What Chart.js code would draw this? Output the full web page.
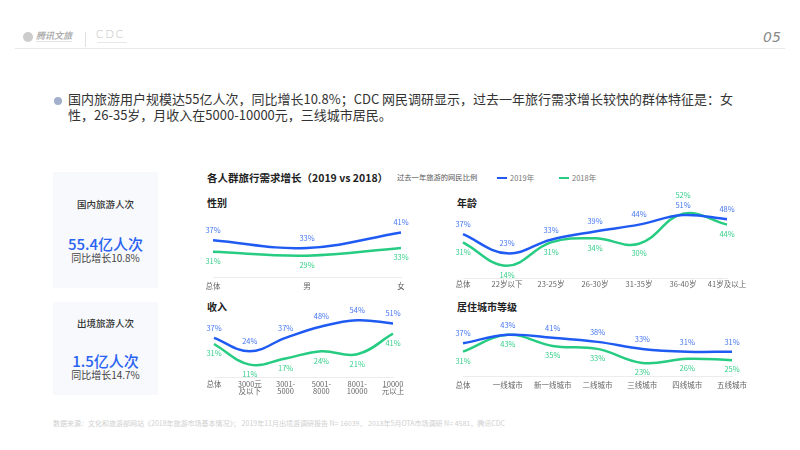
<!DOCTYPE html>
<html>
<head>
<meta charset="utf-8">
<script src="https://cdn.jsdelivr.net/npm/chart.js@4"></script>
<style>
  html, body { margin: 0; padding: 0; background: #fff; }
  body { width: 800px; height: 450px; position: relative; overflow: hidden; font-family: "Noto Sans CJK SC", "Noto Sans", sans-serif; }
  .abs { position: absolute; white-space: nowrap; }
  .card { position: absolute; left: 53px; width: 105px; background: #f7f9fc; text-align: center; }
  .card .name { position: absolute; left: 0; right: 0; font-size: 9.5px; color: #333; font-weight: 500; }
  .card .big { position: absolute; left: 0; right: 0; font-size: 15px; color: #2a62f2; font-weight: 500; line-height: 16px; }
  .card .sub { position: absolute; left: 0; right: 0; font-size: 10px; color: #444; line-height: 12px; }
  .box { position: absolute; }
  .sect { font-size: 10px; font-weight: 700; color: #222; }
</style>
</head>
<body>
<!-- header -->
<div class="abs" style="left:23px;top:32px;width:10px;height:10px;border-radius:50%;background:#cccccc;"></div>
<div class="abs" style="left:36px;top:29px;font-size:9px;color:#b0b0b0;font-style:italic;font-weight:700;">腾讯文旅</div>
<div class="abs" style="left:36px;top:41px;width:36px;height:1px;background:#e2e2e2;"></div>
<div class="abs" style="left:85px;top:32px;width:1px;height:15px;background:#e0e0e0;"></div>
<div class="abs" style="left:96px;top:27px;font-size:11px;letter-spacing:2px;color:#c4c4c4;font-weight:300;font-family:'Lato';">CDC</div>
<div class="abs" style="left:97px;top:42px;width:30px;height:1px;background:#e8e8e8;"></div>
<div class="abs" style="left:15px;top:48px;width:770px;height:1px;background:#e8e8e8;"></div>
<div class="abs" style="left:763px;top:29px;font-size:14px;color:#8a8a8a;font-style:italic;font-family:'DejaVu Sans';">05</div>

<!-- summary -->
<div class="abs" style="left:54px;top:97px;width:8px;height:8px;border-radius:50%;background:#a3b0cc;"></div>
<div class="abs" style="left:68px;top:91px;font-size:13px;line-height:16px;color:#333;">国内旅游用户规模达55亿人次，同比增长10.8%；CDC 网民调研显示，过去一年旅行需求增长较快的群体特征是：女<br>性，26-35岁，月收入在5000-10000元，三线城市居民。</div>

<!-- cards -->
<div class="card" style="top:172px;height:116px;">
  <div class="name" style="top:25px;">国内旅游人次</div>
  <div class="big" style="top:64px;">55.4亿人次</div>
  <div class="sub" style="top:80px;">同比增长10.8%</div>
</div>
<div class="card" style="top:302px;height:93px;">
  <div class="name" style="top:14px;">出境旅游人次</div>
  <div class="big" style="top:51px;">1.5亿人次</div>
  <div class="sub" style="top:67px;">同比增长14.7%</div>
</div>

<!-- chart heading + legend -->
<div class="abs" style="left:207px;top:170px;font-size:10.5px;font-weight:700;color:#222;">各人群旅行需求增长（2019 vs 2018）</div>
<div class="abs" style="left:397px;top:172px;font-size:7.3px;color:#555;">过去一年旅游的网民比例</div>
<div class="abs" style="left:497px;top:177px;width:10px;height:2px;background:#1f5bf3;"></div>
<div class="abs" style="left:510px;top:172px;font-size:7.5px;color:#777;" id="leg19"></div>
<div class="abs" style="left:559px;top:177px;width:10px;height:2px;background:#26cc82;"></div>
<div class="abs" style="left:572px;top:172px;font-size:7.5px;color:#777;" id="leg18"></div>

<div class="abs sect" style="left:207px;top:195px;">性别</div>
<div class="abs sect" style="left:457px;top:195px;">年龄</div>
<div class="abs sect" style="left:207px;top:299px;">收入</div>
<div class="abs sect" style="left:457px;top:299px;">居住城市等级</div>

<div class="box" style="left:190px;top:210px;width:230px;height:90px;"><canvas id="gender"></canvas></div>
<div class="box" style="left:440px;top:185px;width:320px;height:110px;"><canvas id="age"></canvas></div>
<div class="box" style="left:190px;top:305px;width:230px;height:95px;"><canvas id="income"></canvas></div>
<div class="box" style="left:440px;top:313px;width:320px;height:85px;"><canvas id="city"></canvas></div>

<div class="abs" style="left:53px;top:418px;font-size:7px;color:#cfcfcf;">数据来源：文化和旅游部网站《2018年旅游市场基本情况》； 2019年11月出境游调研报告 N= 16039， 2018年5月OTA市场调研 N= 4581，腾讯CDC</div>

<script>
// values (% of netizens who travelled in the past year)
const seriesNames = ['2019年', '2018年'];

const genderLabels = ['总体', '男', '女'];
const gender2019 = [37, 33, 41];
const gender2018 = [31, 29, 33];

const ageLabels = ['总体', '22岁以下', '23-25岁', '26-30岁', '31-35岁', '36-40岁', '41岁及以上'];
const age2019 = [37, 23, 33, 39, 44, 51, 48];
const age2018 = [31, 14, 31, 34, 30, 52, 44];

const incomeLabels = ['总体', ['3000元', '及以下'], ['3001-', '5000'], ['5001-', '8000'], ['8001-', '10000'], ['10000', '元以上']];
const income2019 = [37, 24, 37, 48, 54, 51];
const income2018 = [31, 11, 17, 24, 21, 41];

const cityLabels = ['总体', '一线城市', '新一线城市', '二线城市', '三线城市', '四线城市', '五线城市'];
const city2019 = [37, 43, 41, 38, 33, 31, 31];
const city2018 = [31, 43, 35, 33, 23, 26, 25];

const BLUE = '#1f5bf3';
const GREEN = '#26cc82';
const FONT = '"Noto Sans CJK SC", "Noto Sans", sans-serif';

document.getElementById('leg19').textContent = seriesNames[0];
document.getElementById('leg18').textContent = seriesNames[1];

// draws the % value next to every point: 2019 above, 2018 below
// (2018 goes above the 2019 label when it is the higher one)
const valueLabels = {
    id: 'valueLabels',
    afterDatasetsDraw(chart) {
        const ctx = chart.ctx;
        const m19 = chart.getDatasetMeta(0);
        const m18 = chart.getDatasetMeta(1);
        const v19 = chart.data.datasets[0].data;
        const v18 = chart.data.datasets[1].data;
        ctx.save();
        ctx.font = '7.5px ' + FONT;
        ctx.textAlign = 'center';
        ctx.textBaseline = 'middle';
        m19.data.forEach((p, i) => {
            const q = m18.data[i];
            const y19 = p.y - 10;
            const y18 = v18[i] > v19[i] ? y19 - 10 : q.y + 9.5;
            ctx.fillStyle = '#4576f2';
            ctx.fillText(v19[i] + '%', p.x, y19);
            ctx.fillStyle = '#35cf8a';
            ctx.fillText(v18[i] + '%', q.x, y18);
        });
        ctx.restore();
    }
};

function makeChart(id, labels, d19, d18, cfg) {
    const line = (name, data, color) => ({
        label: name,
        data: data,
        borderColor: color,
        borderWidth: 2.5,
        tension: 0.4,
        pointRadius: 0,
        fill: false
    });
    return new Chart(document.getElementById(id), {
        type: 'line',
        data: {
            labels: labels,
            datasets: [line(seriesNames[0], d19, BLUE), line(seriesNames[1], d18, GREEN)]
        },
        options: {
            responsive: true,
            maintainAspectRatio: false,
            animation: false,
            layout: { padding: { left: cfg.left, right: cfg.right, top: cfg.top, bottom: 0 } },
            plugins: { legend: { display: false }, tooltip: { enabled: false } },
            scales: {
                x: {
                    offset: false,
                    grid: { display: false, drawTicks: false },
                    border: { color: '#ececec', width: 1 },
                    ticks: {
                        autoSkip: false,
                        maxRotation: 0,
                        padding: cfg.pad,
                        color: '#666',
                        font: { family: FONT, size: 7.5, lineHeight: 0.95 }
                    },
                    afterFit: s => { s.height = cfg.axisH; }
                },
                y: { display: false, min: cfg.min, max: cfg.max }
            }
        },
        plugins: [valueLabels]
    });
}

makeChart('gender', genderLabels, gender2019, gender2018, { left: 23, right: 19, top: 5, axisH: 23, pad: 5.5, min: 18, max: 50 });
makeChart('age', ageLabels, age2019, age2018, { left: 23, right: 33, top: 15, axisH: 17, pad: 2.5, min: 5, max: 62 });
makeChart('income', incomeLabels, income2019, income2018, { left: 24, right: 27, top: 5, axisH: 23, pad: 3.5, min: -1, max: 64 });
makeChart('city', cityLabels, city2019, city2018, { left: 23, right: 28, top: 5, axisH: 22, pad: 5.5, min: 13.7, max: 55 });
</script>
</body>
</html>
